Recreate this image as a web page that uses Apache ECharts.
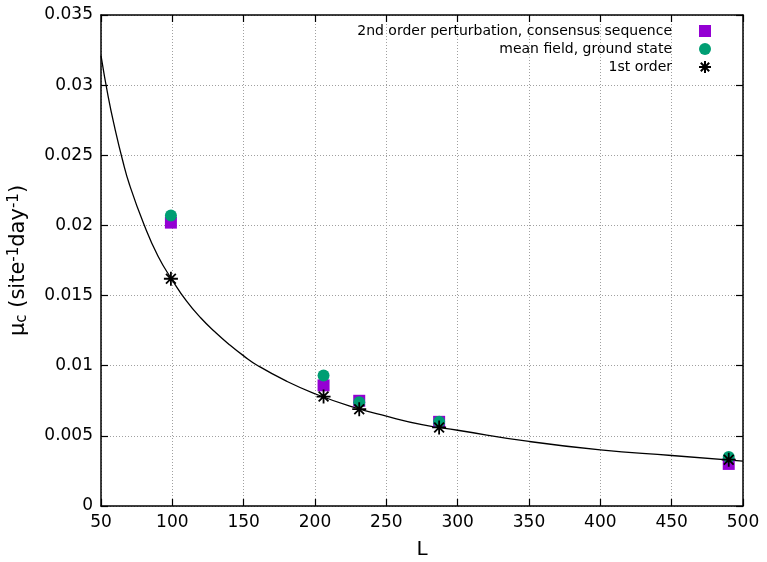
<!DOCTYPE html>
<html>
<head>
<meta charset="utf-8">
<script src="https://cdn.jsdelivr.net/npm/echarts@6/dist/echarts.min.js"></script>
<style>
  html, body { margin: 0; padding: 0; background: #fff; }
  #chart { width: 767px; height: 562px; }
</style>
</head>
<body>
<div id="chart"></div>
<script>
  // points
  let perturbL = [99, 206, 231, 287, 490];
  let perturbMu = [0.0202, 0.0086, 0.0075, 0.0060, 0.0030];
  let meanFieldL = [99, 206, 231, 287, 490];
  let meanFieldMu = [0.0207, 0.0093, 0.0074, 0.0060, 0.0035];
  let firstL = [99, 206, 231, 287, 490];
  let firstMu = [0.0162, 0.0078, 0.0069, 0.0056, 0.0033];

  // fitted curve, sampled by eye
  let curveL = [50, 55, 60, 65, 70, 80, 90, 100, 110, 120, 130, 140, 150, 160, 180, 200, 225, 250, 275, 300, 350, 400, 450, 500];
  let curveMu = [0.0321, 0.0292, 0.0268, 0.0247, 0.0229, 0.0201, 0.0178, 0.0161, 0.0146, 0.0134, 0.0124, 0.0115, 0.0107,
    0.0100, 0.0089, 0.0080, 0.0071, 0.0064, 0.0058, 0.0054, 0.0046, 0.0040, 0.0036, 0.0032];

  let xTicks = [50, 500, 50];      // min, max, step
  let yTicks = [0, 0.035, 0.005];

  function pairs(xs, ys) {
    return xs.map(function (x, i) { return [x, ys[i]]; });
  }

  let font = 'DejaVu Sans';
  let starPath = 'path://M5,0 L5,10 M0,5 L10,5 M1.5,1.5 L8.5,8.5 M1.5,8.5 L8.5,1.5';

  let chart = echarts.init(document.getElementById('chart'));

  let gridLine = { show: true, lineStyle: { color: '#a0a0a0', type: [1, 2], width: 1 } };
  let axisLine = { show: true, onZero: false, lineStyle: { color: '#000', width: 1.5 } };
  let tick = { show: true, inside: true, length: 7, lineStyle: { color: '#000', width: 1.2 } };

  let option = {
    animation: false,
    textStyle: { fontFamily: font },
    grid: { left: 101, right: 24, top: 15, bottom: 56, containLabel: false, outerBoundsMode: 'none' },
    legend: {
      orient: 'vertical',
      right: 50,
      top: 19,
      align: 'right',
      itemWidth: 12,
      itemHeight: 12,
      itemGap: 4,
      textStyle: { fontFamily: font, fontSize: 14, color: '#000', padding: [0, 22, 0, 0] },
      data: ['2nd order perturbation, consensus sequence', 'mean field, ground state', '1st order']
    },
    xAxis: [{
      type: 'value',
      min: xTicks[0], max: xTicks[1], interval: xTicks[2],
      name: 'L',
      nameLocation: 'middle',
      nameGap: 34,
      nameTextStyle: { fontFamily: font, fontSize: 20, color: '#000' },
      axisLine: axisLine,
      axisTick: tick,
      splitLine: gridLine,
      axisLabel: { color: '#000', fontSize: 17, margin: 8 }
    }, {
      type: 'value',
      position: 'top',
      min: xTicks[0], max: xTicks[1], interval: xTicks[2],
      axisLine: axisLine,
      axisTick: tick,
      splitLine: { show: false },
      axisLabel: { show: false }
    }],
    yAxis: [{
      type: 'value',
      min: yTicks[0], max: yTicks[1], interval: yTicks[2],
      name: '{t|μ}{sub|c}{t| (site}{sup|-1}{t|day}{sup|-1}{t|)}',
      nameLocation: 'middle',
      nameGap: 56,
      nameRotate: 90,
      nameTextStyle: {
        fontFamily: font, fontSize: 21, color: '#000',
        rich: {
          t: { fontFamily: font, fontSize: 21, color: '#000', lineHeight: 30, verticalAlign: 'middle' },
          sub: { fontFamily: font, fontSize: 15, color: '#000', lineHeight: 30, verticalAlign: 'bottom', padding: [0, 0, 4, 0] },
          sup: { fontFamily: font, fontSize: 15, color: '#000', lineHeight: 30, verticalAlign: 'top', padding: [3, 0, 0, 0] }
        }
      },
      axisLine: axisLine,
      axisTick: tick,
      splitLine: gridLine,
      axisLabel: {
        color: '#000', fontSize: 17, margin: 8,
        formatter: function (v) { return String(+v.toFixed(3)); }
      }
    }, {
      type: 'value',
      position: 'right',
      min: yTicks[0], max: yTicks[1], interval: yTicks[2],
      axisLine: axisLine,
      axisTick: tick,
      splitLine: { show: false },
      axisLabel: { show: false }
    }],
    series: [{
      name: 'fit',
      type: 'line',
      data: pairs(curveL, curveMu),
      smooth: true,
      showSymbol: false,
      lineStyle: { color: '#000', width: 1.3 },
      z: 2
    }, {
      name: '2nd order perturbation, consensus sequence',
      type: 'scatter',
      symbol: 'rect',
      symbolSize: 12,
      itemStyle: { color: '#9400d3', opacity: 1 },
      data: pairs(perturbL, perturbMu),
      z: 3
    }, {
      name: 'mean field, ground state',
      type: 'scatter',
      symbol: 'circle',
      symbolSize: 12,
      itemStyle: { color: '#009e73', opacity: 1 },
      data: pairs(meanFieldL, meanFieldMu),
      z: 4
    }, {
      name: '1st order',
      type: 'scatter',
      symbol: starPath,
      symbolSize: 14,
      itemStyle: { color: '#000', borderColor: '#000', borderWidth: 1.8, opacity: 1 },
      data: pairs(firstL, firstMu),
      z: 5
    }]
  };

  chart.setOption(option);
</script>
</body>
</html>
